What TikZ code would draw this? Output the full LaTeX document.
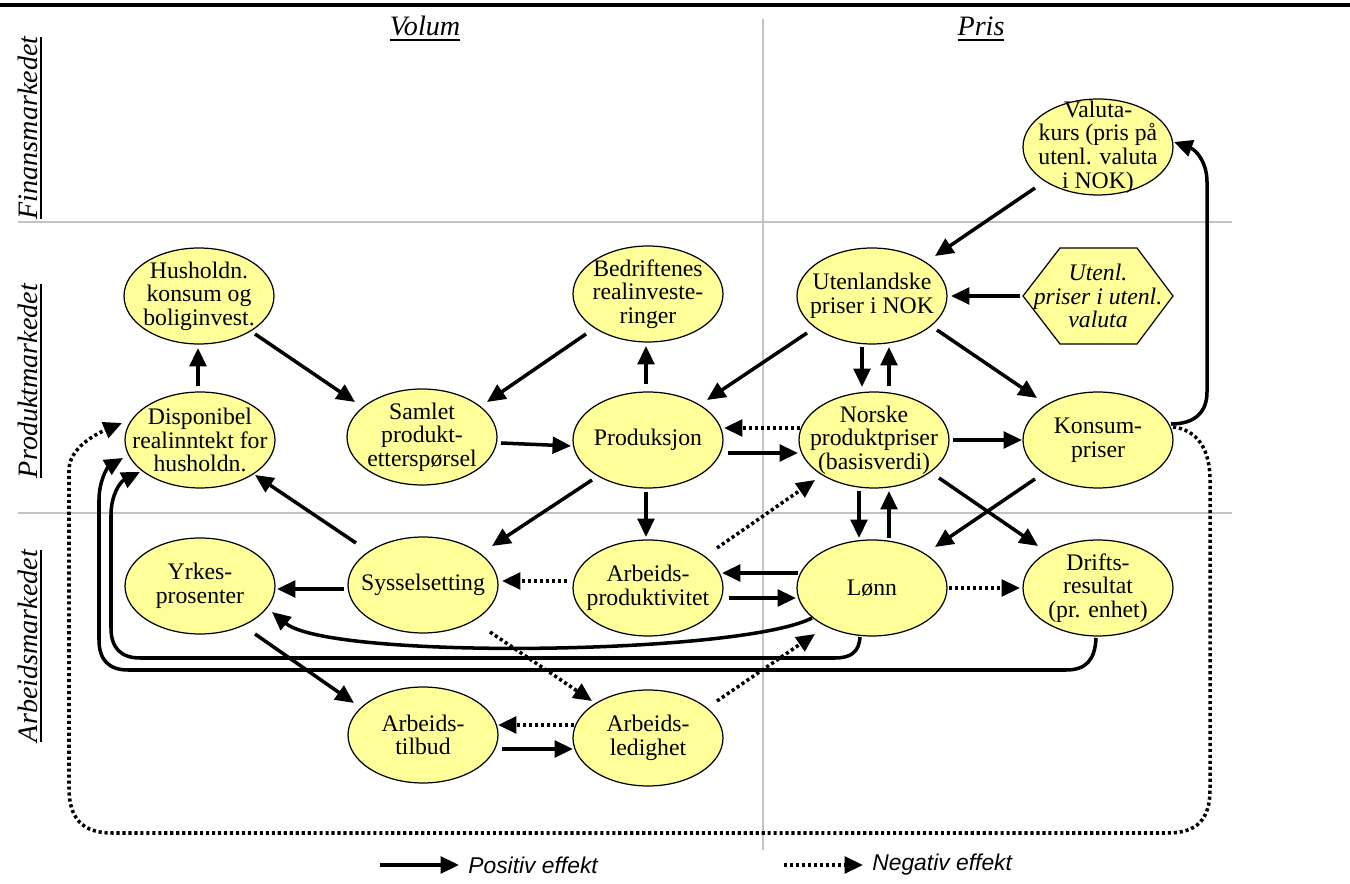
\documentclass[tikz,border=0pt]{standalone}
\usepackage{fontspec}
\setmainfont{Liberation Serif}
\newfontfamily\legfont{Liberation Sans}
\usetikzlibrary{shapes.geometric,arrows.meta,calc}
\definecolor{yel}{RGB}{255,255,153}
\definecolor{gridc}{RGB}{195,195,195}
\newsavebox\ulbox
\newcommand\myul[1]{\sbox\ulbox{#1}\rlap{\rule[-3pt]{\wd\ulbox}{1.2pt}}\usebox\ulbox}
\tikzset{
  ell/.style={ellipse, draw, line width=0.7pt, fill=yel, minimum width=3cm, minimum height=1.92cm, inner sep=0pt},
  txt/.style={align=center, inner sep=0pt, font=\fontsize{13.5}{13.4}\selectfont},
  posarrow/.style={line width=2pt, -{Triangle[length=10.5pt,width=9.5pt]}},
  negarrow/.style={posarrow, dash pattern=on 1.8pt off 1.6pt},
  gridline/.style={draw=gridc, line width=0.8pt},
  sidelab/.style={rotate=90, anchor=base, inner sep=0pt, font=\fontsize{16}{16}\selectfont\itshape},
  toplab/.style={anchor=base, inner sep=0pt, font=\fontsize{16}{16}\selectfont\itshape},
  legtxt/.style={anchor=west, inner sep=0pt, font=\legfont\itshape\fontsize{13}{13}\selectfont}
}
\begin{document}
\begin{tikzpicture}[x=0.02cm,y=-0.02cm]
\useasboundingbox (0,0) rectangle (1350,884);
% frame lines
\draw[line width=2.3pt] (0,5) -- (1350,5);
\draw[gridline] (763,19) -- (763,850);
\draw[gridline] (18,222) -- (1232,222);
\draw[gridline] (18,513) -- (1232,513);
% headings
\node[toplab] (vol) at (425,36) {\myul{Volum}};
\node[toplab] (pris) at (981,36) {\myul{Pris}};
\node[sidelab] (fin) at (37,128) {\myul{Finansmarkedet}};
\node[sidelab] (prm) at (37,381) {\myul{Produktmarkedet}};
\node[sidelab] (arm) at (37,646) {\myul{Arbeidsmarkedet}};
% hexagon
\draw[fill=yel, line width=0.7pt] (1023,296) -- (1060,248) -- (1137,248) -- (1173,296) -- (1137,344) -- (1060,344) -- cycle;
\node[txt, font=\fontsize{13.5}{13.4}\selectfont\itshape, minimum width=3cm, minimum height=1.92cm] (hex) at (1098,296) {Utenl.\\priser i utenl.\\valuta};
% ellipses
\node[ell] (val) at (1098,147) {};
\node[txt] (valt) at (val) {Valuta-\\kurs (pris på\\utenl. valuta\\i NOK)};
\node[ell] (ute) at (872,296) {};
\node[txt] (utet) at (ute) {Utenlandske\\priser i NOK};
\node[ell] (hus) at (199,296) {};
\node[txt] (hust) at (hus) {Husholdn.\\konsum og\\boliginvest.};
\node[ell] (bed) at (648,294) {};
\node[txt] (bedt) at (bed) {Bedriftenes\\realinveste-\\ringer};
\node[ell] (dis) at (200,440) {};
\node[txt] (dist) at (dis) {Disponibel\\realinntekt for\\husholdn.};
\node[ell] (sam) at (422,437) {};
\node[txt] (samt) at (sam) {Samlet\\produkt-\\etterspørsel};
\node[ell] (pro) at (648,440) {};
\node[txt] (prot) at (pro) {Produksjon};
\node[ell] (nor) at (874,440) {};
\node[txt] (nort) at (nor) {Norske\\produktpriser\\(basisverdi)};
\node[ell] (kon) at (1098,440) {};
\node[txt] (kont) at (kon) {Konsum-\\priser};
\node[ell] (yrk) at (200,586) {};
\node[txt] (yrkt) at (yrk) {Yrkes-\\prosenter};
\node[ell] (sys) at (423,585) {};
\node[txt] (syst) at (sys) {Sysselsetting};
\node[ell] (apr) at (648,588) {};
\node[txt] (aprt) at (apr) {Arbeids-\\produktivitet};
\node[ell] (lon) at (872,588) {};
\node[txt] (lont) at (lon) {Lønn};
\node[ell] (dri) at (1098,588) {};
\node[txt] (drit) at (dri) {Drifts-\\resultat\\(pr. enhet)};
\node[ell] (atb) at (423,735) {};
\node[txt] (atbt) at (atb) {Arbeids-\\tilbud};
\node[ell] (led) at (648,738) {};
\node[txt] (ledt) at (led) {Arbeids-\\ledighet};
% positive effects
\draw[posarrow] ($(dis)+(-2,-54)$) -- ($(hus)+(-1,52)$);
\draw[posarrow] ($(hus)+(56,38)$) -- ($(sam)+(-67,-35)$);
\draw[posarrow] ($(bed)+(-62,40)$) -- ($(sam)+(65,-35)$);
\draw[posarrow] ($(pro)+(-2,-56)$) -- ($(bed)+(-2,52)$);
\draw[posarrow] ($(sam)+(79,6)$) -- ($(pro)+(-77,6)$);
\draw[posarrow] ($(ute)+(-65,37)$) -- ($(pro)+(59,-40)$);
\draw[posarrow] ($(ute)+(-10,51)$) -- ($(nor)+(-12,-53)$);
\draw[posarrow] ($(nor)+(15,-54)$) -- ($(ute)+(17,51)$);
\draw[posarrow] ($(hex)+(-78,0)$) -- ($(ute)+(79,0)$);
\draw[posarrow] ($(val)+(-63,41)$) -- ($(ute)+(63,-40)$);
\draw[posarrow] ($(ute)+(65,34)$) -- ($(kon)+(-61,-42)$);
\draw[posarrow] ($(pro)+(80,13)$) -- ($(nor)+(-76,13)$);
\draw[posarrow] ($(nor)+(79,0)$) -- ($(kon)+(-76,0)$);
\draw[posarrow] ($(kon)+(73,-16)$) .. controls (1195,424) and (1207,412) .. (1207,392) -- (1207,182) .. controls (1207,162) and (1196,150) .. ($(val)+(76,-5)$);
\draw[posarrow] ($(nor)+(-15,51)$) -- ($(lon)+(-13,-50)$);
\draw[posarrow] ($(lon)+(17,-50)$) -- ($(nor)+(15,51)$);
\draw[posarrow] ($(nor)+(65,38)$) -- ($(dri)+(-60,-42)$);
\draw[posarrow] ($(kon)+(-63,39)$) -- ($(lon)+(63,-41)$);
\draw[posarrow] ($(lon)+(-74,-15)$) -- ($(apr)+(74,-15)$);
\draw[posarrow] ($(apr)+(81,10)$) -- ($(lon)+(-76,10)$);
\draw[posarrow] ($(pro)+(-2,52)$) -- ($(apr)+(-2,-51)$);
\draw[posarrow] ($(pro)+(-56,40)$) -- ($(sys)+(69,-39)$);
\draw[posarrow] ($(sys)+(-67,-42)$) -- ($(dis)+(55,35)$);
\draw[posarrow] ($(sys)+(-79,4)$) -- ($(yrk)+(77,3)$);
\draw[posarrow] ($(yrk)+(55,48)$) -- ($(atb)+(-69,-32)$);
\draw[posarrow] ($(atb)+(79,14)$) -- ($(led)+(-75,11)$);
\draw[posarrow] ($(lon)+(-60,30)$) .. controls (740,655) and (330,660) .. ($(yrk)+(72,26)$);
\draw[posarrow] ($(lon)+(-12,49)$) .. controls (859,652) and (851,658) .. (835,658) -- (140,658) .. controls (121,658) and (111,648) .. (111,628) -- (111,515) .. controls (111,495) and (120,482) .. ($(dis)+(-60,32)$);
\draw[posarrow] ($(dri)+(-2,50)$) .. controls (1095,660) and (1086,670) .. (1066,670) -- (128,670) .. controls (109,670) and (99,660) .. (99,640) -- (99,500) .. controls (99,480) and (108,467) .. ($(dis)+(-77,18)$);
% negative effects
\draw[negarrow] ($(nor)+(-74,-12)$) -- ($(pro)+(76,-12)$);
\draw[negarrow] ($(apr)+(-81,-7)$) -- ($(sys)+(79,-4)$);
\draw[negarrow] ($(apr)+(69,-40)$) -- ($(nor)+(-59,40)$);
\draw[negarrow] ($(sys)+(67,47)$) -- ($(led)+(-56,-37)$);
\draw[negarrow] ($(led)+(-74,-13)$) -- ($(atb)+(75,-10)$);
\draw[negarrow] ($(led)+(69,-37)$) -- ($(lon)+(-57,46)$);
\draw[negarrow] ($(lon)+(77,0)$) -- ($(dri)+(-78,0)$);
\draw[negarrow] ($(kon)+(75,-13)$) .. controls (1198,430) and (1210,450) .. (1210,480) -- (1210,790) .. controls (1210,818) and (1198,833) .. (1168,833) -- (112,833) .. controls (82,833) and (69,818) .. (69,788) -- (69,470) .. controls (69,448) and (96,434) .. ($(dis)+(-78,-17)$);
% legend
\coordinate (lp0) at (380,865);
\node[legtxt] (lpt) at (468,865) {Positiv effekt};
\draw[posarrow] (lp0) -- ($(lpt.west)+(-9,0)$);
\coordinate (ln0) at (784,865);
\node[legtxt] (lnt) at (872,865) {Negativ effekt};
\draw[negarrow] (ln0) -- ($(lnt.west)+(-9,0)$);
\end{tikzpicture}
\end{document}
